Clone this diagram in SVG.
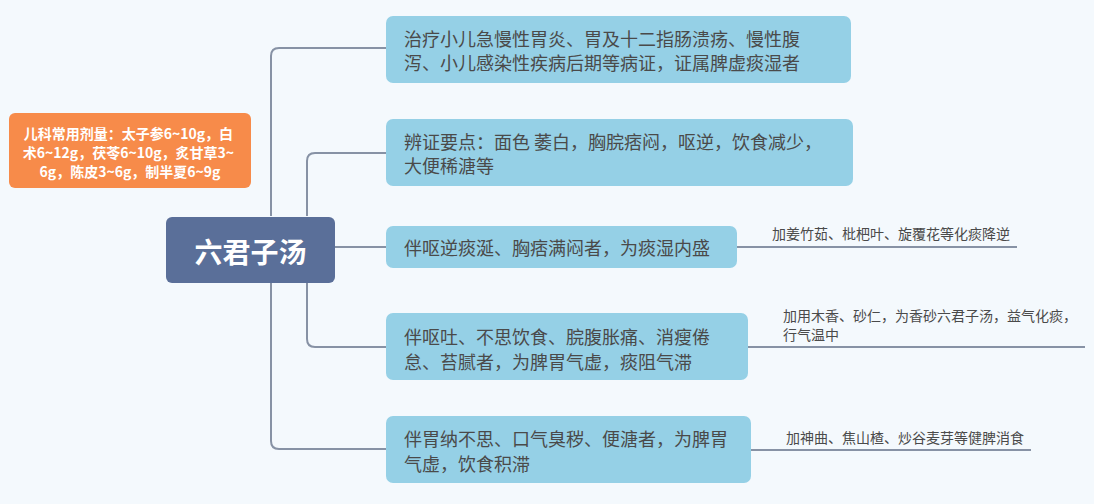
<svg xmlns="http://www.w3.org/2000/svg" width="1094" height="504" viewBox="0 0 1094 504">
<style>
.bg{fill:#f4f9fd}
.conn{fill:none;stroke:#8792a5;stroke-width:2}
.topic{fill:#95d0e6}
.tt{font-family:"Noto Sans CJK SC","Liberation Sans",sans-serif;font-size:18px;fill:#4a4a4a;dominant-baseline:central}
.st{font-family:"Noto Sans CJK SC","Liberation Sans",sans-serif;font-size:14px;fill:#4a4a4a;dominant-baseline:central}
</style>
<rect class="bg" x="0" y="0" width="1094" height="504"/>
<g id="connectors">
<path class="conn" d="M271,216 V56 Q271,48 279,48 H386"/>
<path class="conn" d="M307,216 V161 Q307,153 315,153 H386"/>
<path class="conn" d="M335,247 H386"/>
<path class="conn" d="M307,283 V339 Q307,347 315,347 H386"/>
<path class="conn" d="M271,283 V441 Q271,449 279,449 H386"/>
<path class="conn" d="M737,247 H1017"/>
<path class="conn" d="M748,347 H1085"/>
<path class="conn" d="M751,450 H1031"/>
</g>
<g id="root">
<rect x="166" y="217" width="169" height="66" rx="6" fill="#5a6f99"/>
<text x="250.5" y="251" text-anchor="middle" font-family="Noto Sans CJK SC,Liberation Sans,sans-serif" font-size="28" font-weight="bold" fill="#ffffff" dominant-baseline="central">六君子汤</text>
</g>
<g id="dosage">
<rect x="9" y="113" width="242" height="75" rx="6" fill="#f78b4a"/>
<text font-family="Noto Sans CJK SC,Liberation Sans,sans-serif" font-size="14" font-weight="bold" fill="#ffffff" text-anchor="middle" dominant-baseline="central">
<tspan x="130" y="133">儿科常用剂量：太子参6~10g，白</tspan>
<tspan x="130" y="152">术6~12g，茯苓6~10g，炙甘草3~</tspan>
<tspan x="130" y="171">6g，陈皮3~6g，制半夏6~9g</tspan>
</text>
</g>
<g id="node1">
<rect class="topic" x="386" y="16" width="465" height="67" rx="7"/>
<text class="tt"><tspan x="404" y="38">治疗小儿急慢性胃炎、胃及十二指肠溃疡、慢性腹</tspan><tspan x="404" y="62">泻、小儿感染性疾病后期等病证，证属脾虚痰湿者</tspan></text>
</g>
<g id="node2">
<rect class="topic" x="386" y="119" width="467" height="67" rx="7"/>
<text class="tt"><tspan x="404" y="141">辨证要点：面色 萎白，胸脘痞闷，呕逆，饮食减少，</tspan><tspan x="404" y="165">大便稀溏等</tspan></text>
</g>
<g id="node3">
<rect class="topic" x="386" y="226" width="351" height="42" rx="7"/>
<text class="tt" x="404" y="247">伴呕逆痰涎、胸痞满闷者，为痰湿内盛</text>
</g>
<g id="node3sub">
<text class="st" x="772" y="233">加姜竹茹、枇杷叶、旋覆花等化痰降逆</text>
</g>
<g id="node4">
<rect class="topic" x="386" y="313" width="362" height="67" rx="7"/>
<text class="tt"><tspan x="404" y="336">伴呕吐、不思饮食、脘腹胀痛、消瘦倦</tspan><tspan x="404" y="361">怠、苔腻者，为脾胃气虚，痰阻气滞</tspan></text>
</g>
<g id="node4sub">
<text class="st"><tspan x="783" y="315">加用木香、砂仁，为香砂六君子汤，益气化痰，</tspan><tspan x="783" y="334">行气温中</tspan></text>
</g>
<g id="node5">
<rect class="topic" x="386" y="416" width="365" height="67" rx="7"/>
<text class="tt"><tspan x="404" y="438">伴胃纳不思、口气臭秽、便溏者，为脾胃</tspan><tspan x="404" y="463">气虚，饮食积滞</tspan></text>
</g>
<g id="node5sub">
<text class="st" x="786" y="437">加神曲、焦山楂、炒谷麦芽等健脾消食</text>
</g>
</svg>
